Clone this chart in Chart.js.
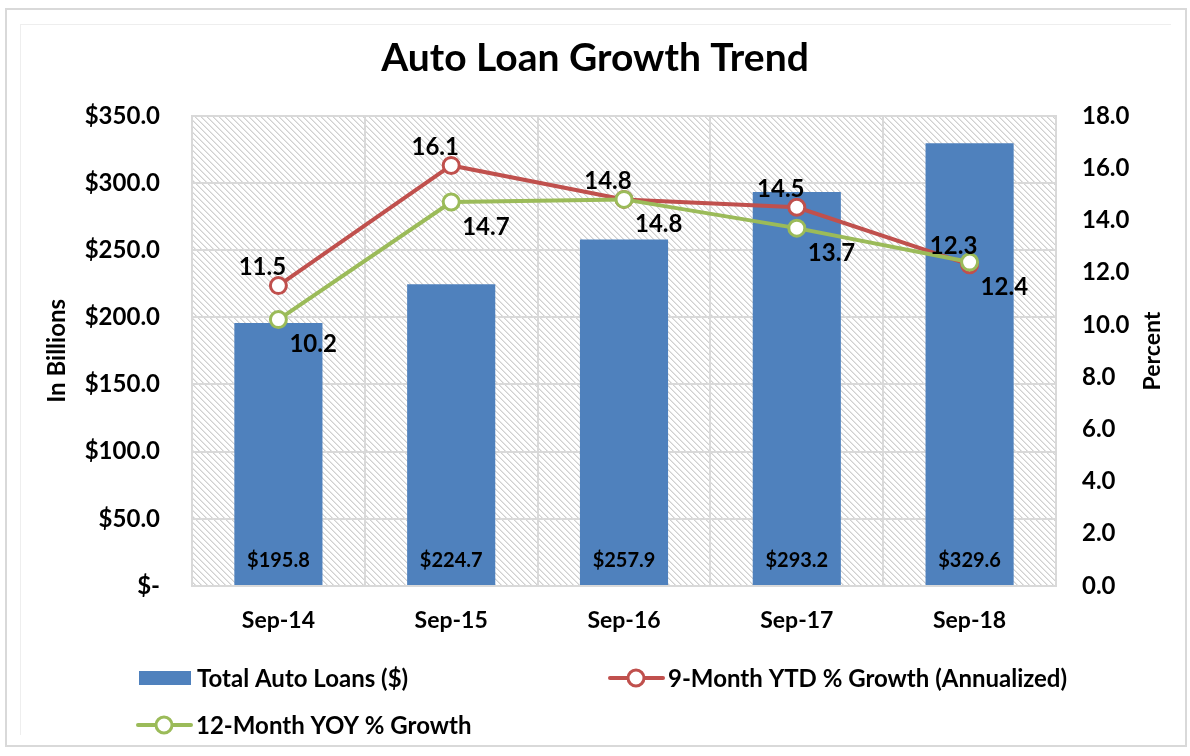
<!DOCTYPE html>
<html>
<head>
<meta charset="utf-8">
<script src="https://cdn.jsdelivr.net/npm/chart.js@4.4.1/dist/chart.umd.min.js"></script>
<style>
  html, body { margin: 0; padding: 0; background: #fff; }
  #wrap { position: relative; width: 1190px; height: 756px; overflow: hidden; }
  #c { position: absolute; left: 0; top: 0; }
  .frame1 { position: absolute; left: 5px; top: 8px; width: 1178px; height: 735px; border: 2px solid #d9d9d9; pointer-events: none; }
  .frame2 { position: absolute; left: 20px; top: 24px; width: 1150px; height: 710px; border: 1px solid #eeeeee; border-right: none; border-bottom: none; pointer-events: none; }
</style>
</head>
<body>
<div id="wrap">
  <canvas id="c" width="1190" height="756"></canvas>
  <div class="frame1"></div>
  <div class="frame2"></div>
</div>
<script>
const categories = ['Sep-14', 'Sep-15', 'Sep-16', 'Sep-17', 'Sep-18'];
const totalAutoLoans = [195.8, 224.7, 257.9, 293.2, 329.6];
const ytdGrowth = [11.5, 16.1, 14.8, 14.5, 12.3];
const yoyGrowth = [10.2, 14.7, 14.8, 13.7, 12.4];
const leftTickLabels = ['$-', '$50.0', '$100.0', '$150.0', '$200.0', '$250.0', '$300.0', '$350.0'];
const rightTickLabels = ['0.0', '2.0', '4.0', '6.0', '8.0', '10.0', '12.0', '14.0', '16.0', '18.0'];

const FONT = 'Lato, "Open Sans", "Liberation Sans", sans-serif';
const BLUE = '#4F81BD', RED = '#C0504D', GREEN = '#9BBB59';

function makePattern(ctx) {
  const t = document.createElement('canvas');
  t.width = 6; t.height = 6;
  const g = t.getContext('2d');
  g.fillStyle = '#ffffff';
  g.fillRect(0, 0, 6, 6);
  g.fillStyle = '#d0d0d0';
  for (let i = 0; i < 6; i++) g.fillRect(i, i, 1, 1);
  g.fillStyle = '#e6e6e6';
  for (let i = 0; i < 6; i++) g.fillRect((i + 1) % 6, i, 1, 1);
  return ctx.createPattern(t, 'repeat');
}

const bgPlugin = {
  id: 'bgPattern',
  beforeDraw(chart) {
    const { ctx, chartArea: a } = chart;
    ctx.save();
    ctx.fillStyle = makePattern(ctx);
    ctx.fillRect(a.left, a.top, a.right - a.left, a.bottom - a.top);
    ctx.restore();
  }
};

const labelPlugin = {
  id: 'valueLabels',
  afterDatasetsDraw(chart) {
    const ctx = chart.ctx;
    ctx.save();
    ctx.fillStyle = '#000';
    ctx.textBaseline = 'middle';
    ctx.textAlign = 'center';
    ctx.font = 'bold 20px ' + FONT;
    chart.getDatasetMeta(0).data.forEach((el, i) => {
      ctx.fillText('$' + totalAutoLoans[i].toFixed(1), el.x, el.base - 24);
    });
    ctx.font = 'bold 24px ' + FONT;
    chart.getDatasetMeta(1).data.forEach((el, i) => {
      ctx.fillText(ytdGrowth[i].toFixed(1), el.x - 16, el.y - 18);
    });
    ctx.textAlign = 'left';
    chart.getDatasetMeta(2).data.forEach((el, i) => {
      ctx.fillText(yoyGrowth[i].toFixed(1), el.x + 11, el.y + 25);
    });
    ctx.restore();
  }
};

const extrasPlugin = {
  id: 'extras',
  afterDraw(chart) {
    const ctx = chart.ctx;
    ctx.save();
    ctx.fillStyle = '#000';
    ctx.font = 'bold 23px ' + FONT;
    ctx.textAlign = 'center';
    ctx.textBaseline = 'middle';
    ctx.translate(1153, 351);
    ctx.rotate(-Math.PI / 2);
    ctx.fillText('Percent', 0, 0);
    ctx.restore();

    const ds = chart.data.datasets;
    const items = [
      { d: ds[0], x: 139, y: 678 },
      { d: ds[1], x: 610, y: 678 },
      { d: ds[2], x: 138, y: 725 }
    ];
    ctx.save();
    ctx.font = 'bold 24px ' + FONT;
    ctx.textBaseline = 'middle';
    ctx.textAlign = 'left';
    items.forEach(it => {
      if (it.d.type === 'line') {
        ctx.strokeStyle = it.d.borderColor;
        ctx.lineWidth = 4;
        ctx.lineCap = 'round';
        ctx.beginPath();
        ctx.moveTo(it.x, it.y);
        ctx.lineTo(it.x + 53, it.y);
        ctx.stroke();
        ctx.beginPath();
        ctx.arc(it.x + 26, it.y, 8, 0, Math.PI * 2);
        ctx.fillStyle = '#fff';
        ctx.fill();
        ctx.lineWidth = 3;
        ctx.stroke();
        ctx.fillStyle = '#000';
        ctx.fillText(it.d.label, it.x + 58, it.y + 1);
      } else {
        ctx.fillStyle = it.d.backgroundColor;
        ctx.fillRect(it.x, it.y - 7, 52, 14);
        ctx.fillStyle = '#000';
        ctx.fillText(it.d.label, it.x + 58, it.y + 1);
      }
    });
    ctx.restore();
  }
};

new Chart(document.getElementById('c'), {
  type: 'bar',
  data: {
    labels: categories,
    datasets: [
      {
        type: 'bar',
        label: 'Total Auto Loans ($)',
        data: totalAutoLoans,
        backgroundColor: BLUE,
        yAxisID: 'y',
        categoryPercentage: 1.0,
        barPercentage: 0.51,
        order: 2
      },
      {
        type: 'line',
        label: '9-Month YTD % Growth (Annualized)',
        data: ytdGrowth,
        borderColor: RED,
        backgroundColor: '#fff',
        borderWidth: 4,
        pointRadius: 8,
        pointBorderWidth: 3,
        pointBackgroundColor: '#fff',
        pointBorderColor: RED,
        tension: 0,
        yAxisID: 'y1',
        order: 1
      },
      {
        type: 'line',
        label: '12-Month YOY % Growth',
        data: yoyGrowth,
        borderColor: GREEN,
        backgroundColor: '#fff',
        borderWidth: 4,
        pointRadius: 8,
        pointBorderWidth: 3,
        pointBackgroundColor: '#fff',
        pointBorderColor: GREEN,
        tension: 0,
        yAxisID: 'y1',
        order: 0
      }
    ]
  },
  options: {
    responsive: false,
    animation: false,
    events: [],
    layout: { padding: 0 },
    plugins: {
      legend: { display: false },
      tooltip: { enabled: false },
      title: {
        display: true,
        text: 'Auto Loan Growth Trend',
        color: '#000',
        font: { family: FONT, size: 39, weight: 'bold' },
        padding: { top: 35, bottom: 34 }
      }
    },
    scales: {
      x: {
        grid: { display: true, offset: true, color: '#d9d9d9', lineWidth: 2, drawTicks: false },
        border: { display: true, color: '#d9d9d9', width: 2 },
        ticks: { color: '#000', font: { family: FONT, size: 23, weight: 'bold' }, padding: 21, maxRotation: 0 },
        afterFit(scale) { scale.height = 170; }
      },
      y: {
        position: 'left',
        min: 0, max: 350,
        ticks: {
          stepSize: 50,
          color: '#000',
          font: { family: FONT, size: 24, weight: 'bold' },
          padding: 32,
          callback: (v) => leftTickLabels[Math.round(v / 50)]
        },
        grid: { color: '#d9d9d9', lineWidth: 2, drawTicks: false },
        border: { display: true, color: '#d9d9d9', width: 2 },
        title: {
          display: true,
          text: 'In Billions',
          color: '#000',
          font: { family: FONT, size: 24, weight: 'bold' },
          padding: { top: 43, bottom: 0 }
        },
        afterFit(scale) { scale.width = 192; }
      },
      y1: {
        position: 'right',
        min: 0, max: 18,
        ticks: {
          stepSize: 2,
          color: '#000',
          font: { family: FONT, size: 24, weight: 'bold' },
          padding: 26,
          callback: (v) => rightTickLabels[Math.round(v / 2)]
        },
        grid: { display: false, drawTicks: false },
        border: { display: true, color: '#d9d9d9', width: 2 },
        afterFit(scale) { scale.width = 134; }
      }
    }
  },
  plugins: [bgPlugin, labelPlugin, extrasPlugin]
});
</script>
</body>
</html>
